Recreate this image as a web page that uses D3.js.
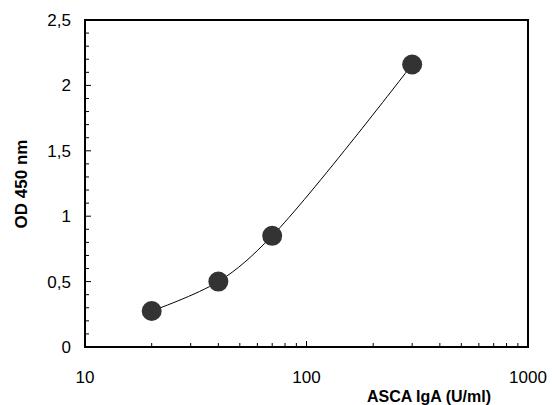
<!DOCTYPE html>
<html>
<head>
<meta charset="utf-8">
<script src="https://cdn.jsdelivr.net/npm/d3@7"></script>
<style>
  body { margin: 0; background: #fff; }
  svg text { font-family: "Liberation Sans", Arial, sans-serif; fill: #000; }
</style>
</head>
<body>
<div id="chart"></div>
<script>
// standard curve values
var concentration = [20, 40, 70, 300];
var od450 = [0.275, 0.5, 0.85, 2.16];
var xTickValues = [10, 100, 1000];
var yTickValues = [0, 0.5, 1, 1.5, 2, 2.5];

var width = 552, height = 405;
var margin = {top: 20, right: 24, bottom: 58, left: 85};

var svg = d3.select('#chart').append('svg')
    .attr('width', width)
    .attr('height', height);

var x = d3.scaleLog().domain([10, 1000]).range([margin.left, width - margin.right]);
var y = d3.scaleLinear().domain([0, 2.5]).range([height - margin.bottom, margin.top]);

var fmt = function(d) { return String(d).replace('.', ','); };

// minor ticks (inside)
var yMinor = d3.range(0, 2.51, 0.1).filter(function(d) { return Math.abs(d * 2 - Math.round(d * 2)) > 1e-6; });
svg.append('g').selectAll('line').data(yMinor).enter().append('line')
    .attr('x1', x(10)).attr('x2', x(10) + 4)
    .attr('y1', function(d) { return y(d); }).attr('y2', function(d) { return y(d); })
    .attr('stroke', '#000').attr('stroke-width', 1);

svg.append('g').selectAll('line').data(yTickValues).enter().append('line')
    .attr('x1', x(10)).attr('x2', x(10) + 6)
    .attr('y1', function(d) { return y(d); }).attr('y2', function(d) { return y(d); })
    .attr('stroke', '#000').attr('stroke-width', 1);

var xMinor = [];
[10, 100].forEach(function(dec) {
  for (var k = 2; k <= 9; k++) xMinor.push(dec * k);
});
svg.append('g').selectAll('line').data(xMinor).enter().append('line')
    .attr('x1', function(d) { return x(d); }).attr('x2', function(d) { return x(d); })
    .attr('y1', y(0)).attr('y2', y(0) - 4)
    .attr('stroke', '#000').attr('stroke-width', 1);
svg.append('g').selectAll('line').data(xTickValues).enter().append('line')
    .attr('x1', function(d) { return x(d); }).attr('x2', function(d) { return x(d); })
    .attr('y1', y(0)).attr('y2', y(0) - 6)
    .attr('stroke', '#000').attr('stroke-width', 1);

// frame
svg.append('rect')
    .attr('x', x(10)).attr('y', y(2.5))
    .attr('width', x(1000) - x(10)).attr('height', y(0) - y(2.5))
    .attr('fill', 'none').attr('stroke', '#000').attr('stroke-width', 2);

// tick labels
svg.append('g').selectAll('text').data(yTickValues).enter().append('text')
    .attr('x', x(10) - 14)
    .attr('y', function(d) { return y(d) + 6; })
    .attr('text-anchor', 'end')
    .attr('font-size', 17)
    .text(fmt);

svg.append('g').selectAll('text').data(xTickValues).enter().append('text')
    .attr('x', function(d) { return x(d); })
    .attr('y', y(0) + 36)
    .attr('text-anchor', 'middle')
    .attr('font-size', 17)
    .text(function(d) { return d; });

// axis titles
svg.append('text')
    .attr('x', 429).attr('y', 402)
    .attr('text-anchor', 'middle')
    .attr('font-size', 16).attr('font-weight', 'bold')
    .text('ASCA IgA (U/ml)');

svg.append('text')
    .attr('transform', 'translate(27,184) rotate(-90)')
    .attr('text-anchor', 'middle')
    .attr('font-size', 17).attr('font-weight', 'bold')
    .text('OD 450 nm');

// curve
var pts = concentration.map(function(c, i) { return {c: c, od: od450[i]}; });
svg.append('path')
    .datum(pts)
    .attr('fill', 'none')
    .attr('stroke', '#000')
    .attr('stroke-width', 1)
    .attr('d', d3.line()
      .curve(d3.curveCatmullRom.alpha(0.5))
      .x(function(d) { return x(d.c); })
      .y(function(d) { return y(d.od); }));

svg.append('g').selectAll('circle').data(pts).enter().append('circle')
    .attr('cx', function(d) { return x(d.c); })
    .attr('cy', function(d) { return y(d.od); })
    .attr('r', 10)
    .attr('fill', '#333');
</script>
</body>
</html>
